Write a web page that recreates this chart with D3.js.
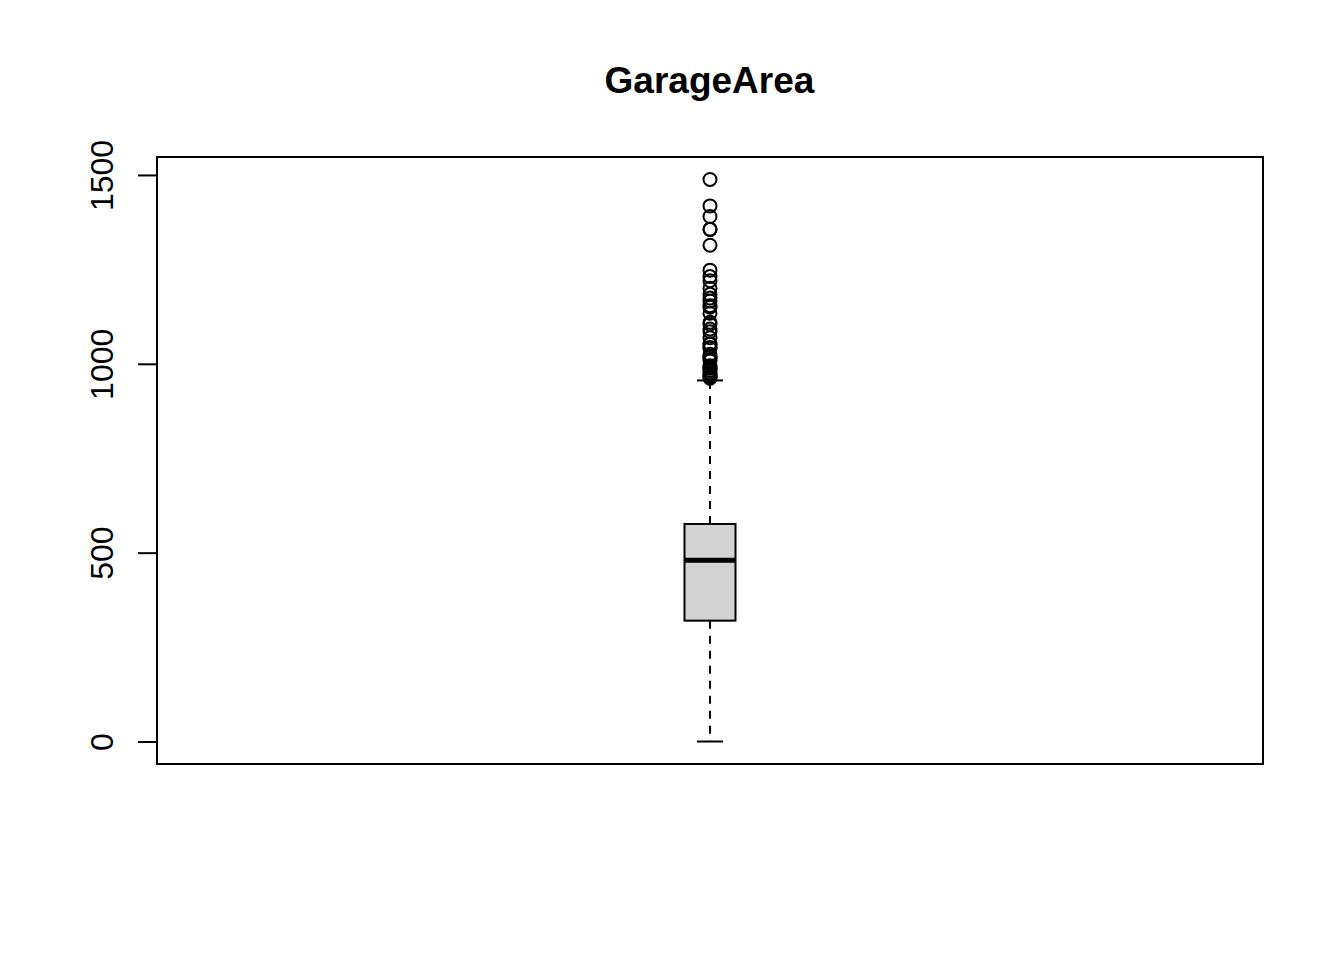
<!DOCTYPE html>
<html>
<head>
<meta charset="utf-8">
<script src="https://cdn.jsdelivr.net/npm/d3@7"></script>
<style>
  html, body { margin: 0; padding: 0; background: #fff; }
  svg text { font-family: "Liberation Sans", Arial, sans-serif; }
</style>
</head>
<body>
<div id="chart"></div>
<script>
// ---- data ----
const title = "GarageArea";
const boxStats = { lowerWhisker: 0, q1: 320, median: 480, q3: 576, upperWhisker: 956 };
const outliers = [1488, 1418, 1390, 1356, 1356, 1314, 1248, 1231, 1220, 1200, 1184, 1174,
  1166, 1154, 1150, 1134, 1110, 1105, 1092, 1085, 1069, 1053, 1052, 1043, 1041, 1025,
  1020, 1017, 1014, 1008, 995, 990, 988, 982, 976, 972, 968, 966, 962];
const yTicks = [0, 500, 1000, 1500];

// ---- layout ----
const W = 1344, H = 960;
const plot = { left: 157, right: 1263, top: 157, bottom: 764 };

const svg = d3.select("#chart").append("svg").attr("width", W).attr("height", H);

const allVals = [boxStats.lowerWhisker, ...outliers];
const lo = d3.min(allVals), hi = d3.max(allVals);
const pad = (hi - lo) * 0.04;
const y = d3.scaleLinear().domain([lo - pad, hi + pad]).range([plot.bottom, plot.top]);
const x = d3.scaleLinear().domain([0.46, 1.54]).range([plot.left, plot.right]);

const cx = x(1);
const boxHalf = 25.5;
const capHalf = 13;

// title
svg.append("text").attr("x", (plot.left + plot.right) / 2 - 0.5).attr("y", 93)
  .attr("text-anchor", "middle").attr("font-size", 37).attr("font-weight", "bold")
  .text(title);

// frame
svg.append("rect").attr("x", plot.left).attr("y", plot.top)
  .attr("width", plot.right - plot.left).attr("height", plot.bottom - plot.top)
  .attr("fill", "none").attr("stroke", "#000").attr("stroke-width", 2);

// y axis (ticks touching the frame, labels rotated)
const yAxis = d3.axisLeft(y).tickValues(yTicks).tickFormat(d3.format("d"))
  .tickSize(19).tickSizeOuter(0).tickPadding(0);
const ax = svg.append("g").attr("transform", `translate(${plot.left},0)`).call(yAxis);
ax.select(".domain").remove();
ax.selectAll(".tick line").attr("stroke", "#000").attr("stroke-width", 2);
ax.selectAll(".tick text")
  .attr("x", null).attr("dy", null)
  .attr("transform", `translate(${113 - plot.left},0) rotate(-90)`)
  .attr("text-anchor", "middle")
  .attr("font-size", 32)
  .attr("font-family", "'Liberation Sans', Arial, sans-serif")
  .attr("fill", "#000");

// whiskers (dashed)
const g = svg.append("g");
g.append("line").attr("x1", cx).attr("x2", cx).attr("y1", y(boxStats.q3)).attr("y2", y(boxStats.upperWhisker))
  .attr("stroke", "#000").attr("stroke-width", 2).attr("stroke-dasharray", "8,7");
g.append("line").attr("x1", cx).attr("x2", cx).attr("y1", y(boxStats.q1)).attr("y2", y(boxStats.lowerWhisker))
  .attr("stroke", "#000").attr("stroke-width", 2).attr("stroke-dasharray", "8,7");
// caps
[boxStats.upperWhisker, boxStats.lowerWhisker].forEach(v => {
  g.append("line").attr("x1", cx - capHalf).attr("x2", cx + capHalf).attr("y1", y(v)).attr("y2", y(v))
    .attr("stroke", "#000").attr("stroke-width", 2);
});
// box
g.append("rect").attr("x", cx - boxHalf).attr("y", y(boxStats.q3))
  .attr("width", boxHalf * 2).attr("height", y(boxStats.q1) - y(boxStats.q3))
  .attr("fill", "#d3d3d3").attr("stroke", "#000").attr("stroke-width", 2);
// median
g.append("line").attr("x1", cx - boxHalf).attr("x2", cx + boxHalf)
  .attr("y1", y(boxStats.median)).attr("y2", y(boxStats.median))
  .attr("stroke", "#000").attr("stroke-width", 5);
// outliers
g.selectAll("circle").data(outliers).enter().append("circle")
  .attr("cx", cx).attr("cy", d => y(d)).attr("r", 6.5)
  .attr("fill", "none").attr("stroke", "#000").attr("stroke-width", 2);
</script>
</body>
</html>
